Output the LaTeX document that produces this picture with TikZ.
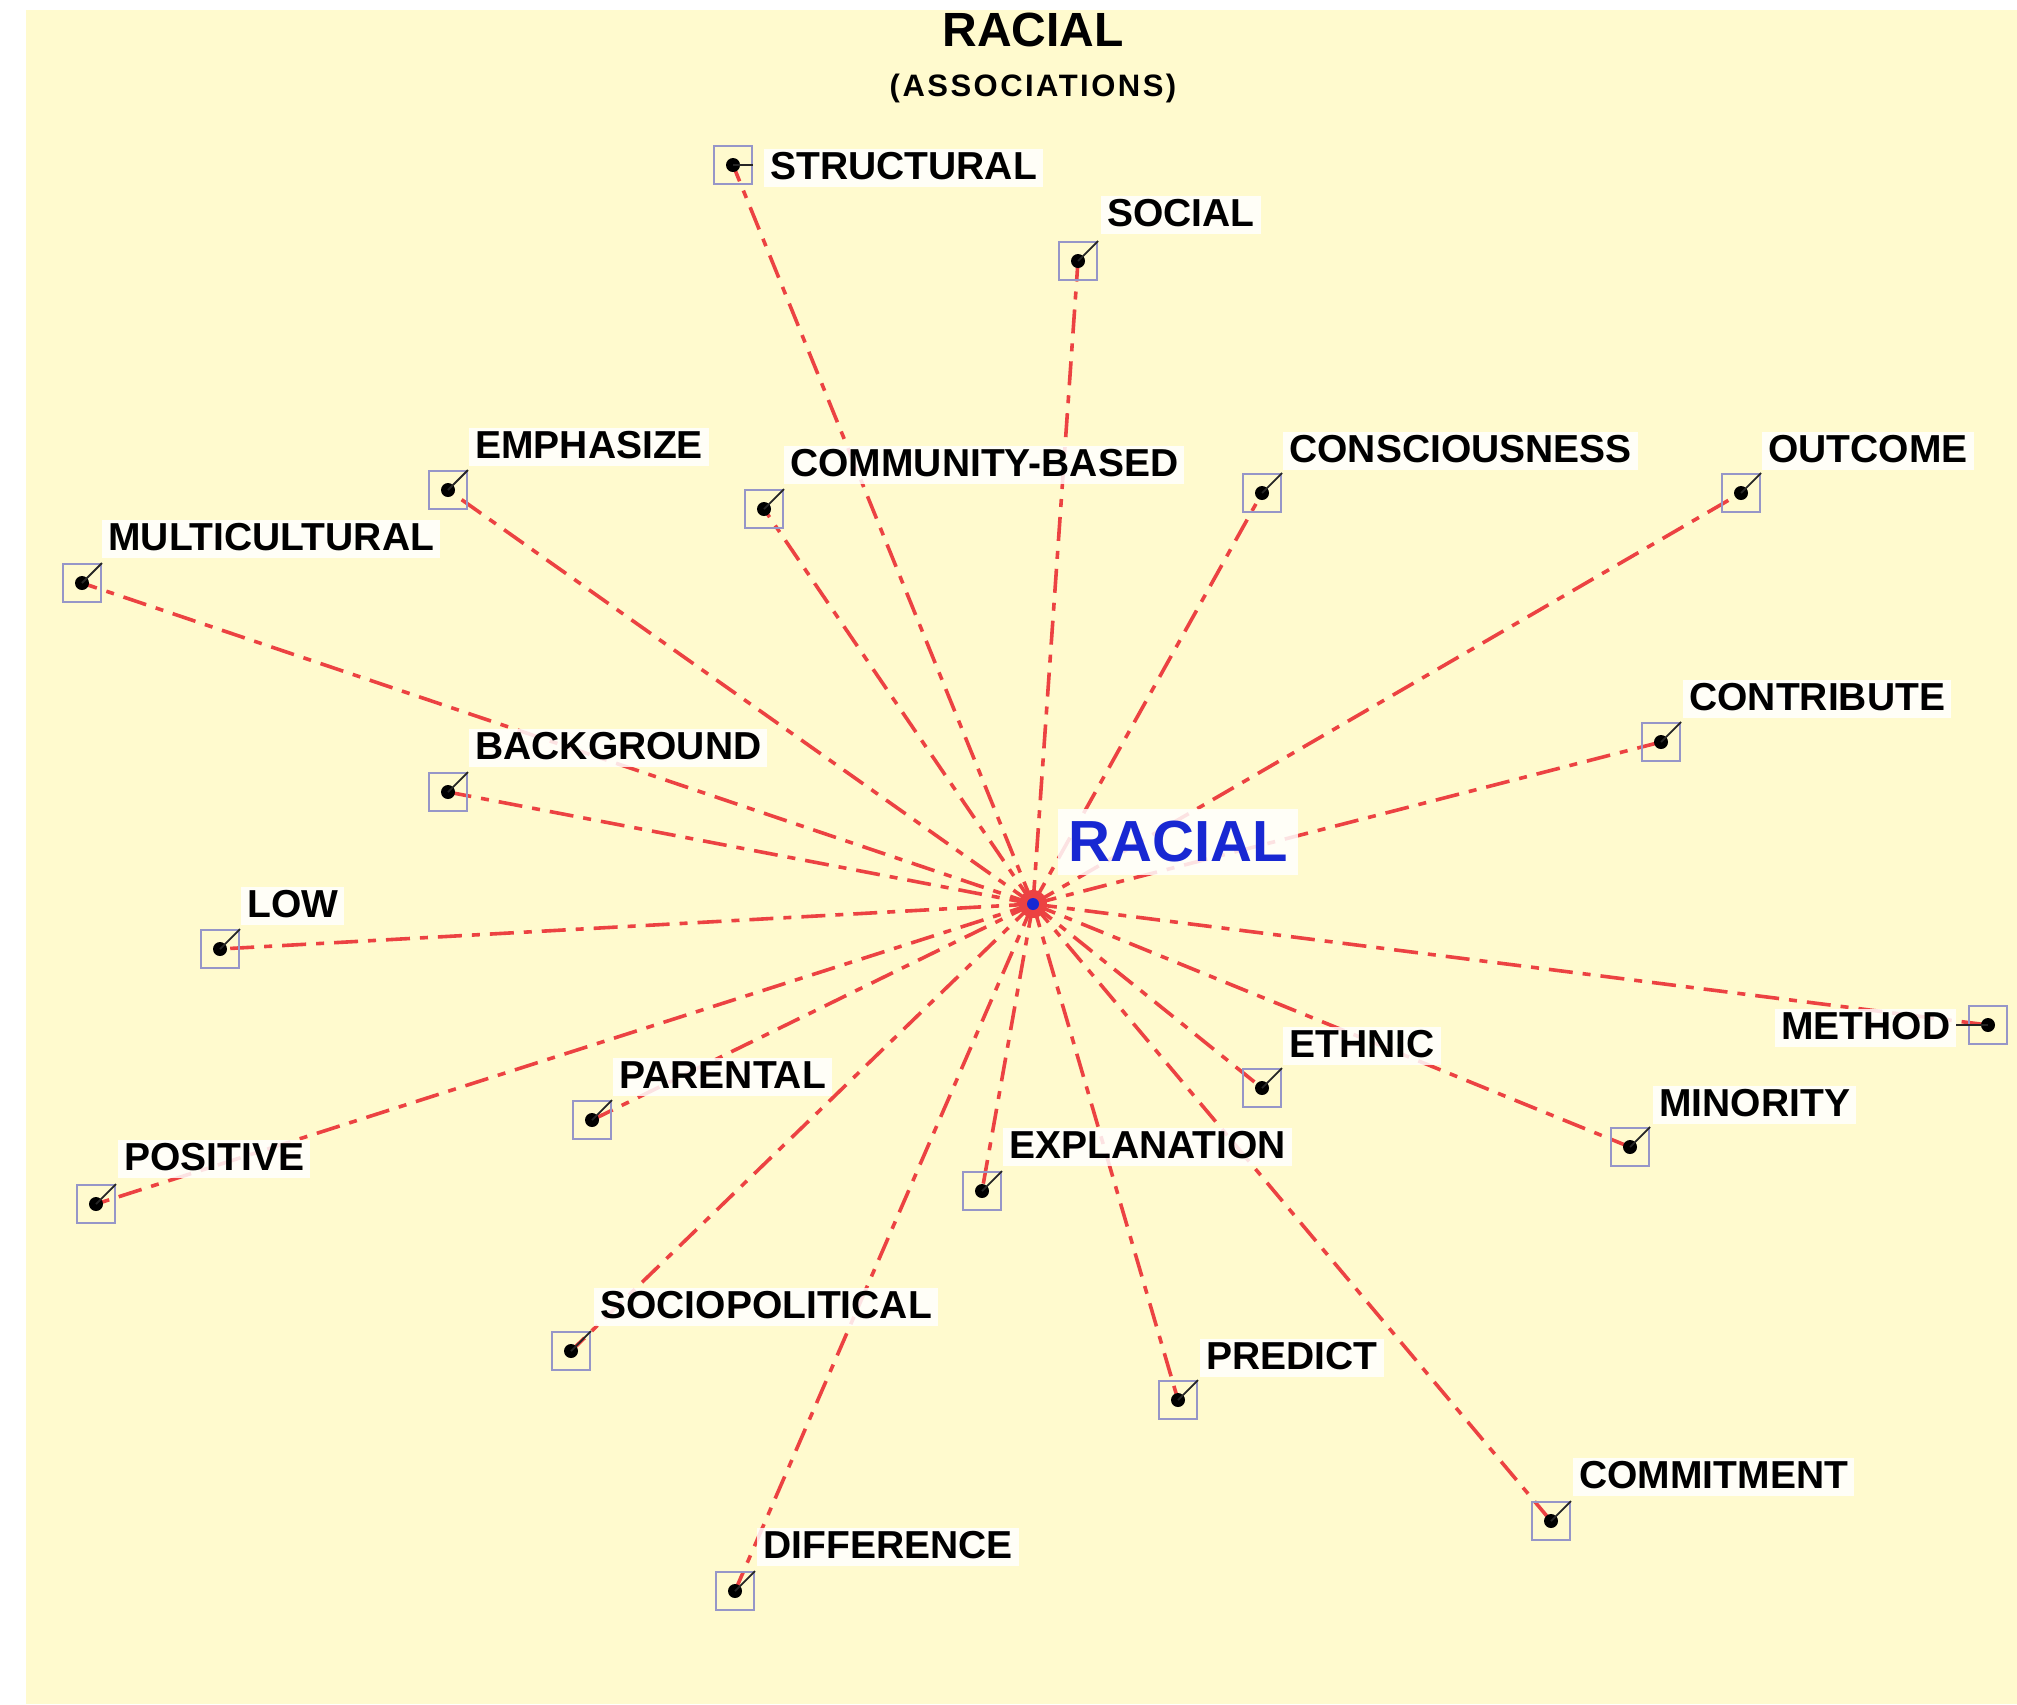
\documentclass[tikz,border=0pt]{standalone}
\usepackage{fontspec}
\setmainfont{Liberation Sans}
\definecolor{paper}{RGB}{255,250,206}
\definecolor{linkred}{RGB}{236,66,66}
\definecolor{boxblue}{RGB}{150,150,200}
\definecolor{hubblue}{RGB}{24,40,210}
\tikzset{
  link/.style={draw=linkred, line width=1.8pt, dash pattern=on 12pt off 5pt on 4pt off 5pt},
  termbox/.style={draw=boxblue, line width=1pt, minimum size=19pt, inner sep=0pt},
  termdot/.style={circle, fill=black, minimum size=7pt, inner sep=0pt},
  leader/.style={draw=black!85, line width=0.9pt},
  termlabel/.style={fill=white, fill opacity=0.85, text opacity=1, anchor=base west,
    font=\bfseries\fontsize{19.5}{19.5}\selectfont, inner xsep=3pt,
    text height=14pt, text depth=3pt, inner ysep=1pt},
}
\begin{document}
\begin{tikzpicture}[x=0.5pt, y=-0.5pt]
  % canvas
  \useasboundingbox (0,0) rectangle (2017,1704);
  \fill[white] (0,0) rectangle (2017,1704);
  \fill[paper] (26,10) rectangle (2017,1704);

  % title
  \node[font=\bfseries\fontsize{24}{24}\selectfont] (title) at (1033,30) {RACIAL};
  \node[font=\bfseries\fontsize{15.5}{15.5}\selectfont\addfontfeature{LetterSpace=8}] (subtitle) at (1033,88) {(ASSOCIATIONS)};

  % hub and term positions
  \coordinate (hub) at (1033,904);
  \foreach \n/\x/\y in {
    structural/733/165, social/1078/261, emphasize/448/490, community/764/509,
    consciousness/1262/493, outcome/1741/493, multicultural/82/583,
    contribute/1661/742, background/448/792, low/220/949, method/1988/1025,
    ethnic/1262/1088, minority/1630/1147, parental/592/1120, positive/96/1204,
    explanation/982/1191, sociopolitical/571/1351, predict/1178/1400,
    commitment/1551/1521, difference/735/1591}{
    \coordinate (\n) at (\x,\y);
  }

  % links from the hub
  \foreach \n in {structural, social, emphasize, community, consciousness, outcome,
    multicultural, contribute, background, low, method, ethnic, minority, parental,
    positive, explanation, sociopolitical, predict, commitment, difference}{
    \draw[link] (hub) -- (\n);
  }

  % term markers: box + dot, drawn over the links
  \foreach \n in {structural, social, emphasize, community, consciousness, outcome,
    multicultural, contribute, background, low, method, ethnic, minority, parental,
    positive, explanation, sociopolitical, predict, commitment, difference}{
    \node[termbox] (\n-box) at (\n) {};
    \node[termdot] (\n-dot) at (\n) {};
  }

  % leaders from dot to label
  \draw[leader] (structural-dot.center) -- (structural-box.east);
  \draw[leader] (method-dot.center) -- ([xshift=-6pt]method-box.west);
  \foreach \n in {social, emphasize, community, consciousness, outcome,
    multicultural, contribute, background, low, ethnic, minority, parental,
    positive, explanation, sociopolitical, predict, commitment, difference}{
    \draw[leader] (\n-dot.center) -- (\n-box.north east);
  }

  % labels
  \node[termlabel] (l-structural) at (764,179) {STRUCTURAL};
  \node[termlabel] (l-social) at (1101,226) {SOCIAL};
  \node[termlabel] (l-emphasize) at (469,458) {EMPHASIZE};
  \node[termlabel] (l-community) at (784,476) {COMMUNITY-BASED};
  \node[termlabel] (l-consciousness) at (1283,462) {CONSCIOUSNESS};
  \node[termlabel] (l-outcome) at (1762,462) {OUTCOME};
  \node[termlabel] (l-multicultural) at (102,550) {MULTICULTURAL};
  \node[termlabel] (l-contribute) at (1683,710) {CONTRIBUTE};
  \node[termlabel] (l-background) at (469,759) {BACKGROUND};
  \node[termlabel] (l-low) at (241,917) {LOW};
  \node[termlabel] (l-method) at (1775,1039) {METHOD};
  \node[termlabel] (l-ethnic) at (1283,1057) {ETHNIC};
  \node[termlabel] (l-minority) at (1653,1116) {MINORITY};
  \node[termlabel] (l-parental) at (613,1088) {PARENTAL};
  \node[termlabel] (l-positive) at (118,1170) {POSITIVE};
  \node[termlabel] (l-explanation) at (1003,1158) {EXPLANATION};
  \node[termlabel] (l-sociopolitical) at (594,1318) {SOCIOPOLITICAL};
  \node[termlabel] (l-predict) at (1200,1369) {PREDICT};
  \node[termlabel] (l-commitment) at (1573,1488) {COMMITMENT};
  \node[termlabel] (l-difference) at (757,1558) {DIFFERENCE};

  % central term
  \fill[linkred] (hub) circle (7pt);
  \fill[hubblue] (hub) circle (3pt);
  \node[fill=white, fill opacity=0.85, text opacity=1, text=hubblue, anchor=west,
    font=\bfseries\fontsize{29}{29}\selectfont, inner xsep=5pt, inner ysep=6pt]
    (center-label) at (1058,842) {RACIAL};
\end{tikzpicture}
\end{document}
